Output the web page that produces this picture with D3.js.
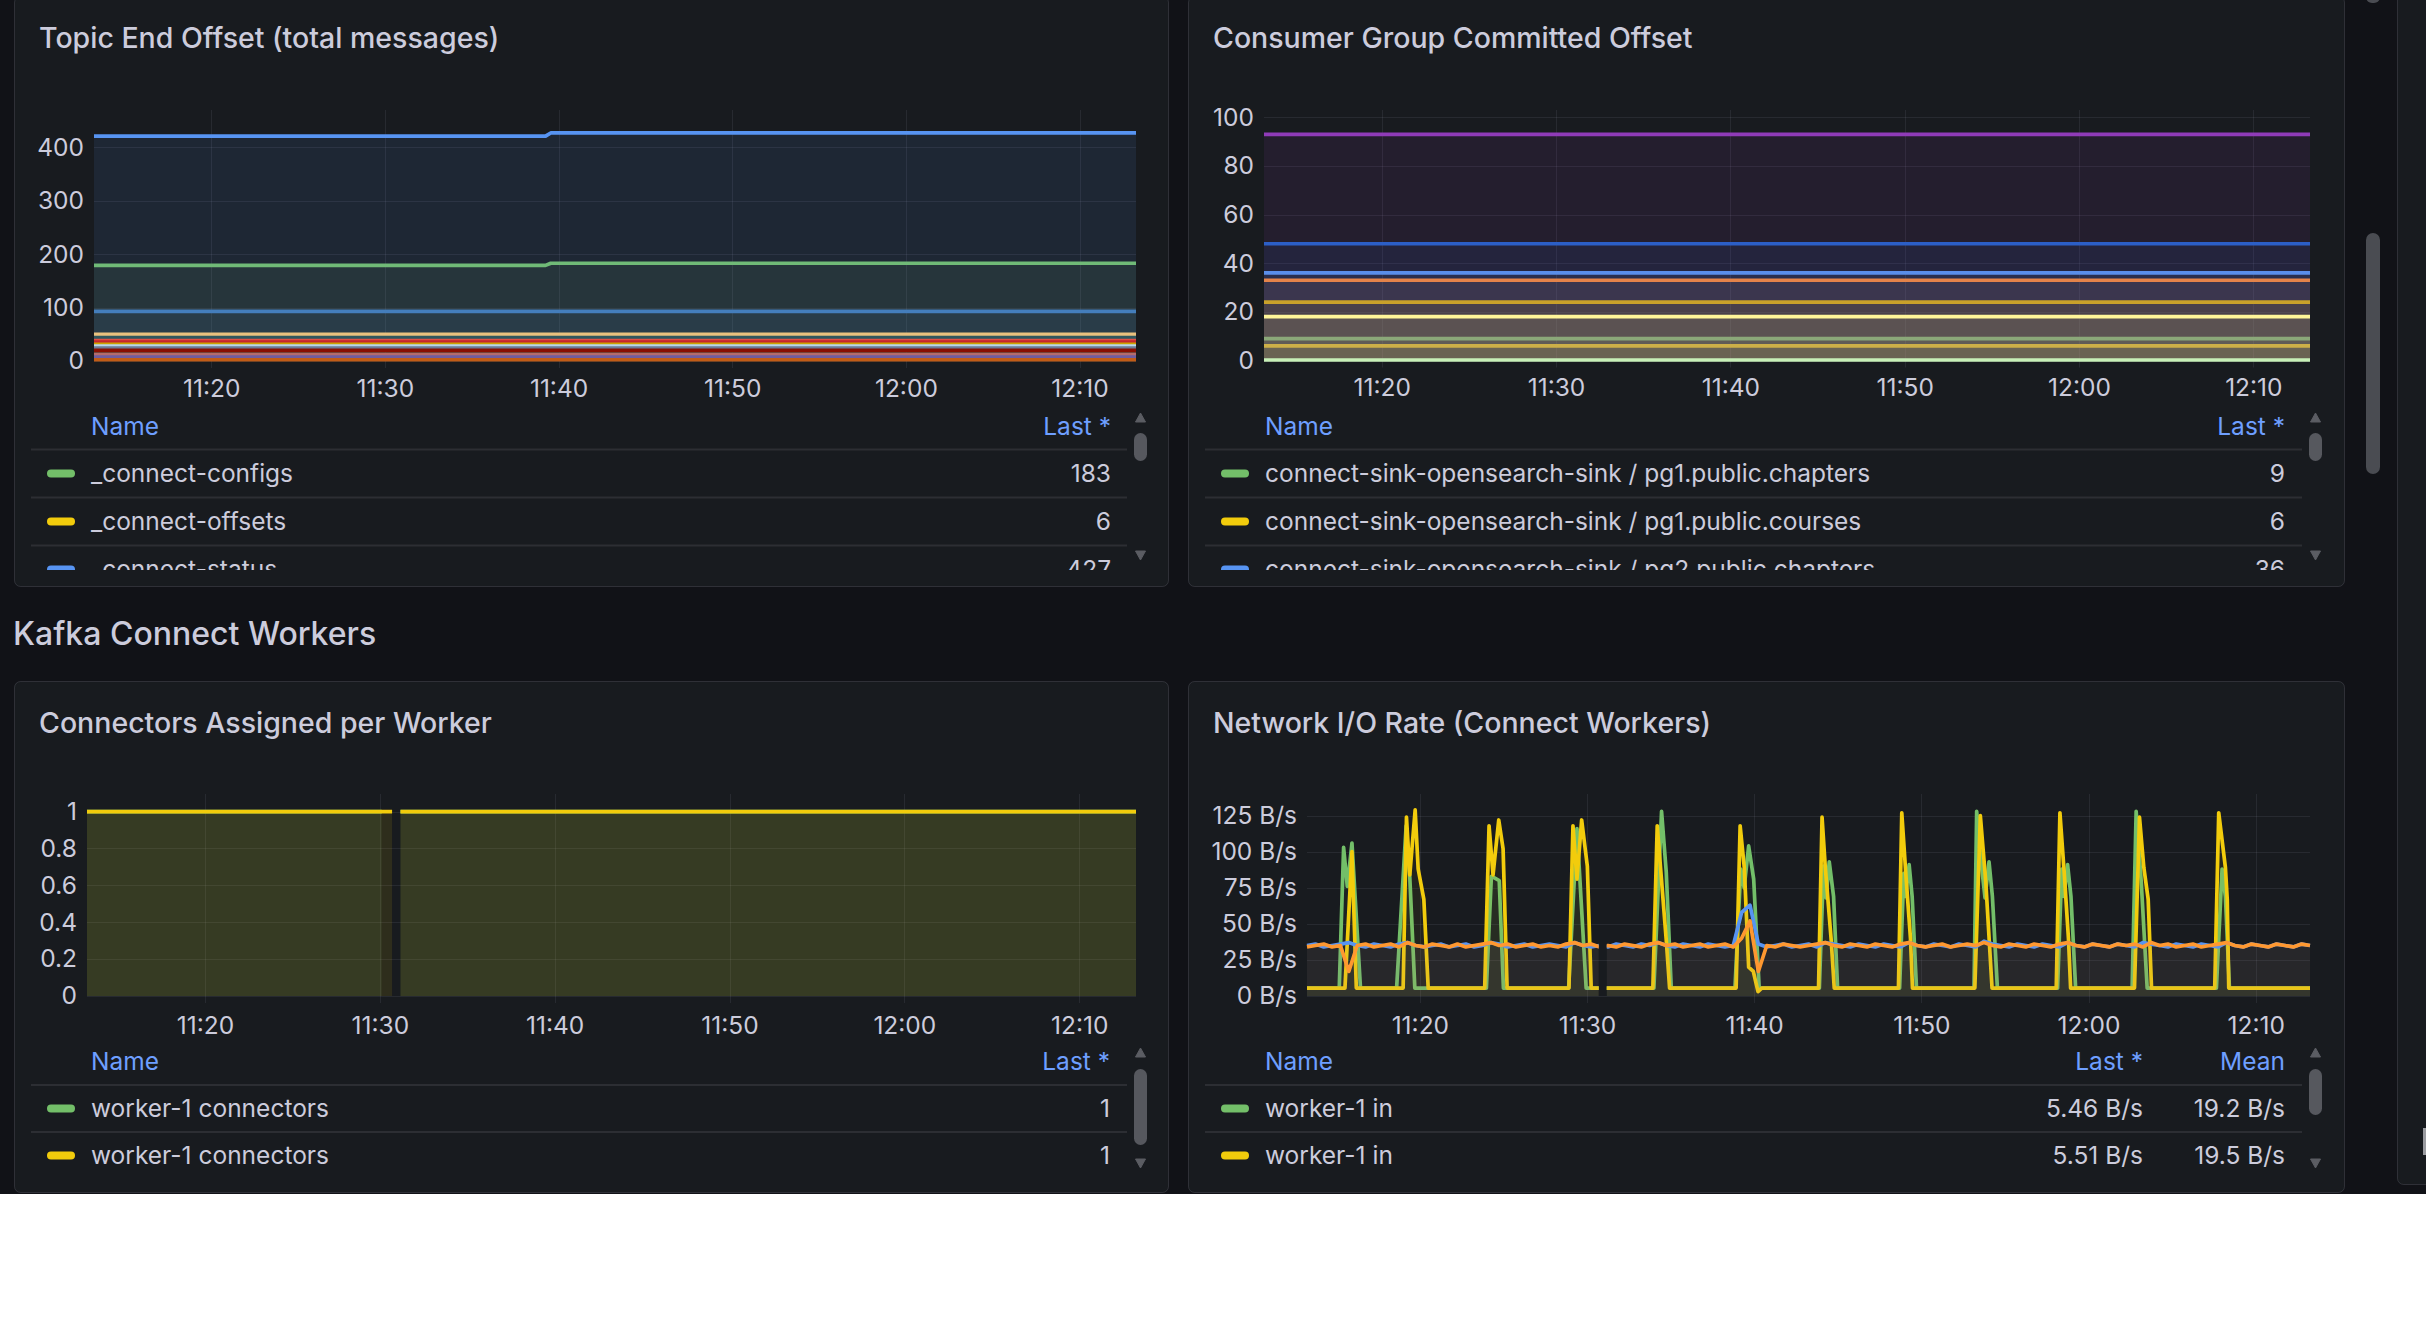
<!DOCTYPE html>
<html>
<head>
<meta charset="utf-8">
<title>Kafka Connect</title>
<script src="https://cdn.jsdelivr.net/npm/d3@7"></script>
<style>
  body { margin: 0; background: #ffffff; }
  svg { display: block; font-family: Inter, 'Noto Sans', sans-serif; }
</style>
</head>
<body>
<svg id="dash" width="2426" height="1336"></svg>
<script>
// time range shown by every panel: 11:13:15 -> 12:13:15, points are [minutes since start, value]
const timeStart = new Date(2024, 5, 3, 11, 13, 15)
const timeEnd = new Date(2024, 5, 3, 12, 13, 15)
const at = (m) => new Date(+timeStart + m * 60000)

// ---- Topic End Offset (total messages) ----
const topicLegendNames = ['_connect-configs', '_connect-offsets', '_connect-status']
const topicLegendLast = ['183', '6', '427']
const topicConfigs = [[0, 179], [26.0, 179], [26.3, 183], [60, 183]]
const topicOffsets = [[0, 6], [60, 6]]
const topicStatus = [[0, 421], [26.0, 421], [26.3, 427], [60, 427]]
// the other topics stay flat for the whole hour (their legend rows are scrolled away)
const topicOtherLevels = [93, 50, 44, 38, 35.5, 31, 28, 24, 20, 11.5, 7.5, 2.3]
const topicColors = ['#73BF69', '#F2CC0C', '#5794F2', '#447EBC', '#E9C17E', '#2F575E', '#E24D42',
  '#C4262E', '#CCA300', '#B7D6EC', '#6A7C96', '#890F02', '#B46C6C', '#705DA0', '#C15C17']

// ---- Consumer Group Committed Offset ----
const groupLegendNames = [
  'connect-sink-opensearch-sink / pg1.public.chapters',
  'connect-sink-opensearch-sink / pg1.public.courses',
  'connect-sink-opensearch-sink / pg2.public.chapters',
]
const groupLegendLast = ['9', '6', '36']
const groupLegendColors = ['#73BF69', '#F2CC0C', '#5794F2']
// drawing order: the two first series end up under the others' fill
const groupOffsetLevels = [9, 6, 93, 48, 36, 33, 24, 18, 0.2]
const groupColors = ['#73BF69', '#F2CC0C', '#8F3BB8', '#2C5FC7', '#5A8EEA', '#E4834A', '#C9A12A', '#FFF599', '#C8F0B8']

// ---- Connectors Assigned per Worker ----
const connectorNames = ['worker-1 connectors', 'worker-1 connectors']
const connectorLast = ['1', '1']
const connectorGreen = [[0, 1], [16.86, 1], [16.87, null], [17.93, 1], [60, 1]]
const connectorYellow = [[0, 1], [17.45, 1], [17.46, null], [17.93, 1], [60, 1]]

// ---- Network I/O Rate (Connect Workers) ----
const ioLegendNames = ['worker-1 in', 'worker-1 in']
const ioLegendLast = ['5.46 B/s', '5.51 B/s']
const ioLegendMean = ['19.2 B/s', '19.5 B/s']
const ioGreen = [
  [0, 5.5],
  [1.93, 5.5], [2.19, 103], [2.41, 76], [2.69, 106], [3.2, 5.5],
  [5.36, 5.5], [5.93, 118], [6.15, 82], [6.45, 5.5],
  [10.73, 5.5], [11.03, 83], [11.5, 80], [11.75, 5.5],
  [15.65, 5.5], [16.15, 116], [16.7, 5.5],
  [20.75, 5.5], [21.21, 128], [21.49, 86], [21.79, 5.5],
  [25.6, 5.5], [25.95, 88], [26.15, 75], [26.42, 104], [26.72, 81], [27.05, 5.5],
  [30.65, 5.5], [30.9, 90], [31.05, 68], [31.24, 93], [31.5, 69], [31.74, 5.5],
  [35.45, 5.5], [35.7, 85], [35.8, 69], [36.02, 91], [36.2, 69], [36.46, 5.5],
  [39.9, 5.5], [40.06, 128], [40.35, 90], [40.56, 68], [40.8, 93], [41.0, 69], [41.3, 5.5],
  [44.9, 5.5], [45.15, 88], [45.28, 69], [45.5, 91], [45.7, 69], [45.98, 5.5],
  [49.36, 5.5], [49.6, 128], [49.9, 80], [50.26, 5.5],
  [54.4, 5.5], [54.74, 88], [54.94, 69], [55.18, 5.5],
  [60, 5.5],
]
const ioYellow = [
  [0, 5.5],
  [2.27, 5.5], [2.69, 100], [2.95, 5.5],
  [5.75, 5.5], [5.95, 124], [6.15, 84], [6.47, 129], [6.65, 88], [6.99, 67], [7.25, 5.5],
  [10.63, 5.5], [10.89, 118], [11.13, 84], [11.47, 122], [11.73, 102], [11.97, 5.5],
  [15.67, 5.5], [15.91, 118], [16.15, 81], [16.43, 122], [16.77, 90], [17.0, 5.5],
  [20.69, 5.5], [20.95, 118], [21.49, 39], [21.69, 5.5],
  [25.67, 5.5], [25.91, 118], [26.16, 89], [26.42, 20], [26.7, 17], [26.98, 3], [27.2, 5.5],
  [30.6, 5.5], [30.81, 124], [31.0, 90], [31.35, 40], [31.54, 5.5],
  [35.38, 5.5], [35.58, 127], [35.85, 80], [36.1, 40], [36.22, 5.5],
  [39.95, 5.5], [40.28, 125], [40.6, 80], [40.98, 5.5],
  [44.82, 5.5], [45.04, 127], [45.3, 85], [45.55, 40], [45.68, 5.5],
  [49.5, 5.5], [49.8, 124], [50.06, 89], [50.32, 67], [50.52, 5.5],
  [54.3, 5.5], [54.54, 127], [54.94, 89], [55.05, 67], [55.14, 5.5],
  [60, 5.5],
]
// 30 s samples from 11:13:15
const ioStepMinutes = 0.5
const ioBlue = [
  35, 36, 34, 35, 36, 37, 35, 34, 36, 35,
  34, 36, 37, 35, 34, 35, 36, 34, 35, 36,
  34, 35, 37, 36, 34, 35, 36, 34, 35, 36,
  35, 34, 37, 35, 34, 35, 34, 36, 35, 34,
  36, 35, 37, 35, 34, 36, 35, 34, 36, 35,
  34, 35, 58, 63, 36, 34, 35, 36, 34, 35,
  36, 34, 37, 36, 35, 34, 36, 35, 34, 36,
  35, 34, 37, 35, 34, 36, 35, 34, 36, 35,
  34, 38, 36, 35, 34, 36, 35, 34, 36, 35,
  34, 37, 35, 34, 36, 35, 34, 36, 35, 34,
  37, 36, 35, 34, 36, 35, 34, 36, 35, 34,
  37, 35, 34, 36, 35, 34, 36, 35, 34, 36, 35,
]
const ioOrange = [
  34, 35, 36, 34, 35, 17, 35, 36, 34, 35,
  36, 34, 37, 35, 34, 36, 35, 34, 36, 34,
  35, 36, 37, 35, 36, 34, 35, 36, 34, 35,
  34, 36, 37, 35, 36, 34, 35, 34, 36, 35,
  34, 36, 37, 35, 36, 34, 35, 36, 34, 35,
  36, 34, 40, 52, 17, 35, 34, 36, 35, 34,
  35, 36, 37, 35, 34, 36, 35, 34, 36, 35,
  34, 36, 37, 35, 34, 35, 36, 34, 35, 36,
  35, 37, 35, 34, 36, 35, 34, 36, 35, 34,
  36, 37, 35, 34, 36, 35, 34, 36, 35, 36,
  34, 37, 35, 36, 34, 35, 36, 34, 35, 36,
  37, 35, 34, 36, 35, 34, 36, 35, 34, 36, 35,
]
// missed scrape around 11:31
const ioGap = [17.45, 17.93]

// ------------------------------------------------------------------
const svg = d3.select('#dash')
const textColor = '#ccccdc'
const linkColor = '#6e9fff'
const gridColor = 'rgba(204, 204, 220, 0.09)'
const axisFont = 24.5
const legendFont = 24.5
const titleFont = 28.5
let clipCount = 0

svg.append('rect').attr('width', 2426).attr('height', 1194).attr('fill', '#111217')

function panel(x, y, w, h, title) {
  svg.append('rect')
    .attr('x', x + 0.5).attr('y', y + 0.5).attr('width', w).attr('height', h).attr('rx', 6)
    .attr('fill', '#181b1f').attr('stroke', 'rgba(204, 204, 220, 0.15)')
  if (title) {
    svg.append('text')
      .attr('x', x + 25).attr('y', y + 42).attr('dy', '0.35em')
      .attr('fill', textColor).attr('font-size', titleFont).attr('font-weight', 500)
      .text(title)
  }
}

function timeSeriesChart({ box, yMax, yTicks, yFormat, series, fillOpacity, gap, labelOffset }) {
  const x = d3.scaleTime().domain([timeStart, timeEnd]).range([box.left, box.right])
  const y = d3.scaleLinear().domain([0, yMax]).range([box.bottom, box.top])
  const g = svg.append('g')
  const timeTicks = x.ticks(d3.timeMinute.every(10))

  g.append('g').selectAll('line').data(yTicks).join('line')
    .attr('x1', box.left).attr('x2', box.right)
    .attr('y1', (d) => Math.round(y(d)) + 0.5).attr('y2', (d) => Math.round(y(d)) + 0.5)
    .attr('stroke', gridColor)
  g.append('g').selectAll('line').data(timeTicks).join('line')
    .attr('x1', (d) => Math.round(x(d)) + 0.5).attr('x2', (d) => Math.round(x(d)) + 0.5)
    .attr('y1', box.top).attr('y2', box.bottom + 7)
    .attr('stroke', gridColor)

  const plot = g.append('g')
  if (gap) {
    // break every series over the scrape gap
    const id = `gap-${clipCount++}`
    const clip = g.append('clipPath').attr('id', id)
    clip.append('rect').attr('x', box.left - 10).attr('y', box.top - 20)
      .attr('width', x(at(gap[0])) - box.left + 10).attr('height', box.bottom - box.top + 40)
    clip.append('rect').attr('x', x(at(gap[1]))).attr('y', box.top - 20)
      .attr('width', box.right - x(at(gap[1])) + 10).attr('height', box.bottom - box.top + 40)
    plot.attr('clip-path', `url(#${id})`)
  }

  const defined = (d) => d[1] != null
  const area = d3.area().defined(defined)
    .x((d) => x(at(d[0]))).y0(y(0)).y1((d) => y(d[1]))
  const line = d3.line().defined(defined)
    .x((d) => x(at(d[0]))).y((d) => y(d[1]))

  series.forEach((s) => {
    plot.append('path').datum(s.points).attr('d', area)
      .attr('fill', s.color).attr('fill-opacity', fillOpacity)
    plot.append('path').datum(s.points).attr('d', line)
      .attr('fill', 'none').attr('stroke', s.color).attr('stroke-width', 3.7)
      .attr('stroke-linejoin', 'round')
  })

  const yAxis = g.append('g').attr('transform', `translate(${box.left},0)`)
    .call(d3.axisLeft(y).tickValues(yTicks).tickFormat(yFormat).tickSize(0).tickPadding(10))
  yAxis.select('.domain').remove()
  yAxis.attr('font-family', null).attr('font-size', axisFont)
  yAxis.selectAll('text').attr('fill', textColor)

  const xAxis = g.append('g').attr('transform', `translate(0,${box.bottom})`)
    .call(d3.axisBottom(x).ticks(d3.timeMinute.every(10)).tickFormat(d3.timeFormat('%H:%M')).tickSize(0))
  xAxis.select('.domain').remove()
  xAxis.attr('font-family', null).attr('font-size', axisFont)
  xAxis.selectAll('text').attr('y', labelOffset).attr('dy', '0.35em').attr('fill', textColor)
}

function legendTable({ sepX0, sepX1, markerX, nameX, valueRights, headers, headerY, sepY0, rowH, clipBottom, rows }) {
  const g = svg.append('g').attr('font-size', legendFont)
  g.append('text').attr('x', nameX).attr('y', headerY).attr('dy', '0.35em')
    .attr('fill', linkColor).text('Name')
  headers.forEach((h, i) => {
    g.append('text').attr('x', valueRights[i]).attr('y', headerY).attr('dy', '0.35em')
      .attr('text-anchor', 'end').attr('fill', linkColor).text(h)
  })
  const id = `legend-${clipCount++}`
  g.append('clipPath').attr('id', id).append('rect')
    .attr('x', sepX0 - 5).attr('y', sepY0 - 3)
    .attr('width', sepX1 - sepX0 + 10).attr('height', clipBottom - sepY0 + 3)
  const body = g.append('g').attr('clip-path', `url(#${id})`)
  body.selectAll('line').data(d3.range(rows.length)).join('line')
    .attr('x1', sepX0).attr('x2', sepX1)
    .attr('y1', (i) => sepY0 + i * rowH).attr('y2', (i) => sepY0 + i * rowH)
    .attr('stroke', '#2c2e33').attr('stroke-width', 2)
  const row = body.selectAll('g.row').data(rows).join('g')
    .attr('transform', (d, i) => `translate(0,${sepY0 + rowH / 2 + i * rowH})`)
  row.append('rect').attr('x', markerX).attr('y', -4).attr('width', 28).attr('height', 8)
    .attr('rx', 4).attr('fill', (d) => d.color)
  row.append('text').attr('x', nameX).attr('dy', '0.35em').attr('fill', textColor)
    .text((d) => d.name)
  valueRights.forEach((vx, i) => {
    row.append('text').attr('x', vx).attr('dy', '0.35em').attr('text-anchor', 'end')
      .attr('fill', textColor).text((d) => d.values[i])
  })
}

function scrollWidget(cx, upY, thumbTop, thumbBottom, downY) {
  svg.append('path').attr('d', `M${cx - 5},${upY + 9}L${cx + 5},${upY + 9}L${cx},${upY}Z`)
    .attr('fill', '#5b5d63').attr('stroke', '#5b5d63').attr('stroke-linejoin', 'round')
  svg.append('rect').attr('x', cx - 6.5).attr('y', thumbTop).attr('width', 13)
    .attr('height', thumbBottom - thumbTop).attr('rx', 6.5).attr('fill', '#56585e')
  svg.append('path').attr('d', `M${cx - 5},${downY}L${cx + 5},${downY}L${cx},${downY + 9}Z`)
    .attr('fill', '#5b5d63').attr('stroke', '#5b5d63').attr('stroke-linejoin', 'round')
}

// ---- page chrome ----
panel(2397, -10, 60, 1194, null)
svg.append('rect').attr('x', 2366).attr('y', 233).attr('width', 14).attr('height', 241)
  .attr('rx', 7).attr('fill', '#4a4c52')
svg.append('rect').attr('x', 2366).attr('y', -10).attr('width', 14).attr('height', 13)
  .attr('rx', 6).attr('fill', '#4a4c52')
svg.append('rect').attr('x', 2423).attr('y', 1128).attr('width', 3).attr('height', 27).attr('fill', '#9a9ba0')

// ---- Topic End Offset ----
panel(14, -4, 1154, 590, 'Topic End Offset (total messages)')
const topicSeries = [
  { color: topicColors[0], points: topicConfigs },
  { color: topicColors[1], points: topicOffsets },
  { color: topicColors[2], points: topicStatus },
  ...topicOtherLevels.map((v, i) => ({ color: topicColors[i + 3], points: [[0, v], [60, v]] })),
]
timeSeriesChart({
  box: { left: 94, right: 1136, top: 110, bottom: 361 },
  yMax: 470, yTicks: [0, 100, 200, 300, 400], yFormat: (d) => d,
  series: topicSeries, fillOpacity: 0.1, labelOffset: 27,
})
legendTable({
  sepX0: 31, sepX1: 1127, markerX: 47, nameX: 91, valueRights: [1111], headers: ['Last *'],
  headerY: 426, sepY0: 449.5, rowH: 48, clipBottom: 570,
  rows: topicLegendNames.map((n, i) => ({ name: n, color: topicColors[i], values: [topicLegendLast[i]] })),
})
scrollWidget(1140.5, 413, 433, 461, 551)

// ---- Consumer Group Committed Offset ----
panel(1188, -4, 1156, 590, 'Consumer Group Committed Offset')
timeSeriesChart({
  box: { left: 1264, right: 2310, top: 110, bottom: 360.5 },
  yMax: 103, yTicks: [0, 20, 40, 60, 80, 100], yFormat: (d) => d,
  series: groupOffsetLevels.map((v, i) => ({ color: groupColors[i], points: [[0, v], [60, v]] })),
  fillOpacity: 0.1, labelOffset: 27,
})
legendTable({
  sepX0: 1205, sepX1: 2302, markerX: 1221, nameX: 1265, valueRights: [2285], headers: ['Last *'],
  headerY: 426, sepY0: 449.5, rowH: 48, clipBottom: 570,
  rows: groupLegendNames.map((n, i) => ({ name: n, color: groupLegendColors[i], values: [groupLegendLast[i]] })),
})
scrollWidget(2315.5, 413, 433, 461, 551)

// ---- Kafka Connect Workers row ----
svg.append('text').attr('x', 13).attr('y', 634).attr('dy', '0.35em')
  .attr('fill', textColor).attr('font-size', 32).attr('font-weight', 500)
  .text('Kafka Connect Workers')

// ---- Connectors Assigned per Worker ----
panel(14, 681, 1154, 511, 'Connectors Assigned per Worker')
timeSeriesChart({
  box: { left: 87, right: 1136, top: 794, bottom: 996 },
  yMax: 1.095, yTicks: [0, 0.2, 0.4, 0.6, 0.8, 1], yFormat: (d) => d,
  series: [
    { color: '#73BF69', points: connectorGreen },
    { color: '#F2CC0C', points: connectorYellow },
  ],
  fillOpacity: 0.1, labelOffset: 29,
})
legendTable({
  sepX0: 31, sepX1: 1127, markerX: 47, nameX: 91, valueRights: [1110], headers: ['Last *'],
  headerY: 1061, sepY0: 1085, rowH: 47, clipBottom: 1180,
  rows: connectorNames.map((n, i) => ({ name: n, color: ['#73BF69', '#F2CC0C'][i], values: [connectorLast[i]] })),
})
scrollWidget(1140.5, 1048, 1069, 1145, 1159)

// ---- Network I/O Rate ----
panel(1188, 681, 1156, 511, 'Network I/O Rate (Connect Workers)')
timeSeriesChart({
  box: { left: 1307, right: 2310, top: 794, bottom: 996 },
  yMax: 140, yTicks: [0, 25, 50, 75, 100, 125], yFormat: (d) => `${d} B/s`,
  series: [
    { color: '#73BF69', points: ioGreen },
    { color: '#F2CC0C', points: ioYellow },
    { color: '#5794F2', points: ioBlue.map((v, i) => [i * ioStepMinutes, v]) },
    { color: '#FF9830', points: ioOrange.map((v, i) => [i * ioStepMinutes, v]) },
  ],
  fillOpacity: 0.055, gap: ioGap, labelOffset: 29,
})
legendTable({
  sepX0: 1205, sepX1: 2302, markerX: 1221, nameX: 1265, valueRights: [2143, 2285], headers: ['Last *', 'Mean'],
  headerY: 1061, sepY0: 1085, rowH: 47, clipBottom: 1180,
  rows: ioLegendNames.map((n, i) => ({
    name: n, color: ['#73BF69', '#F2CC0C'][i], values: [ioLegendLast[i], ioLegendMean[i]],
  })),
})
scrollWidget(2315.5, 1048, 1069, 1115, 1159)
</script>
</body>
</html>
